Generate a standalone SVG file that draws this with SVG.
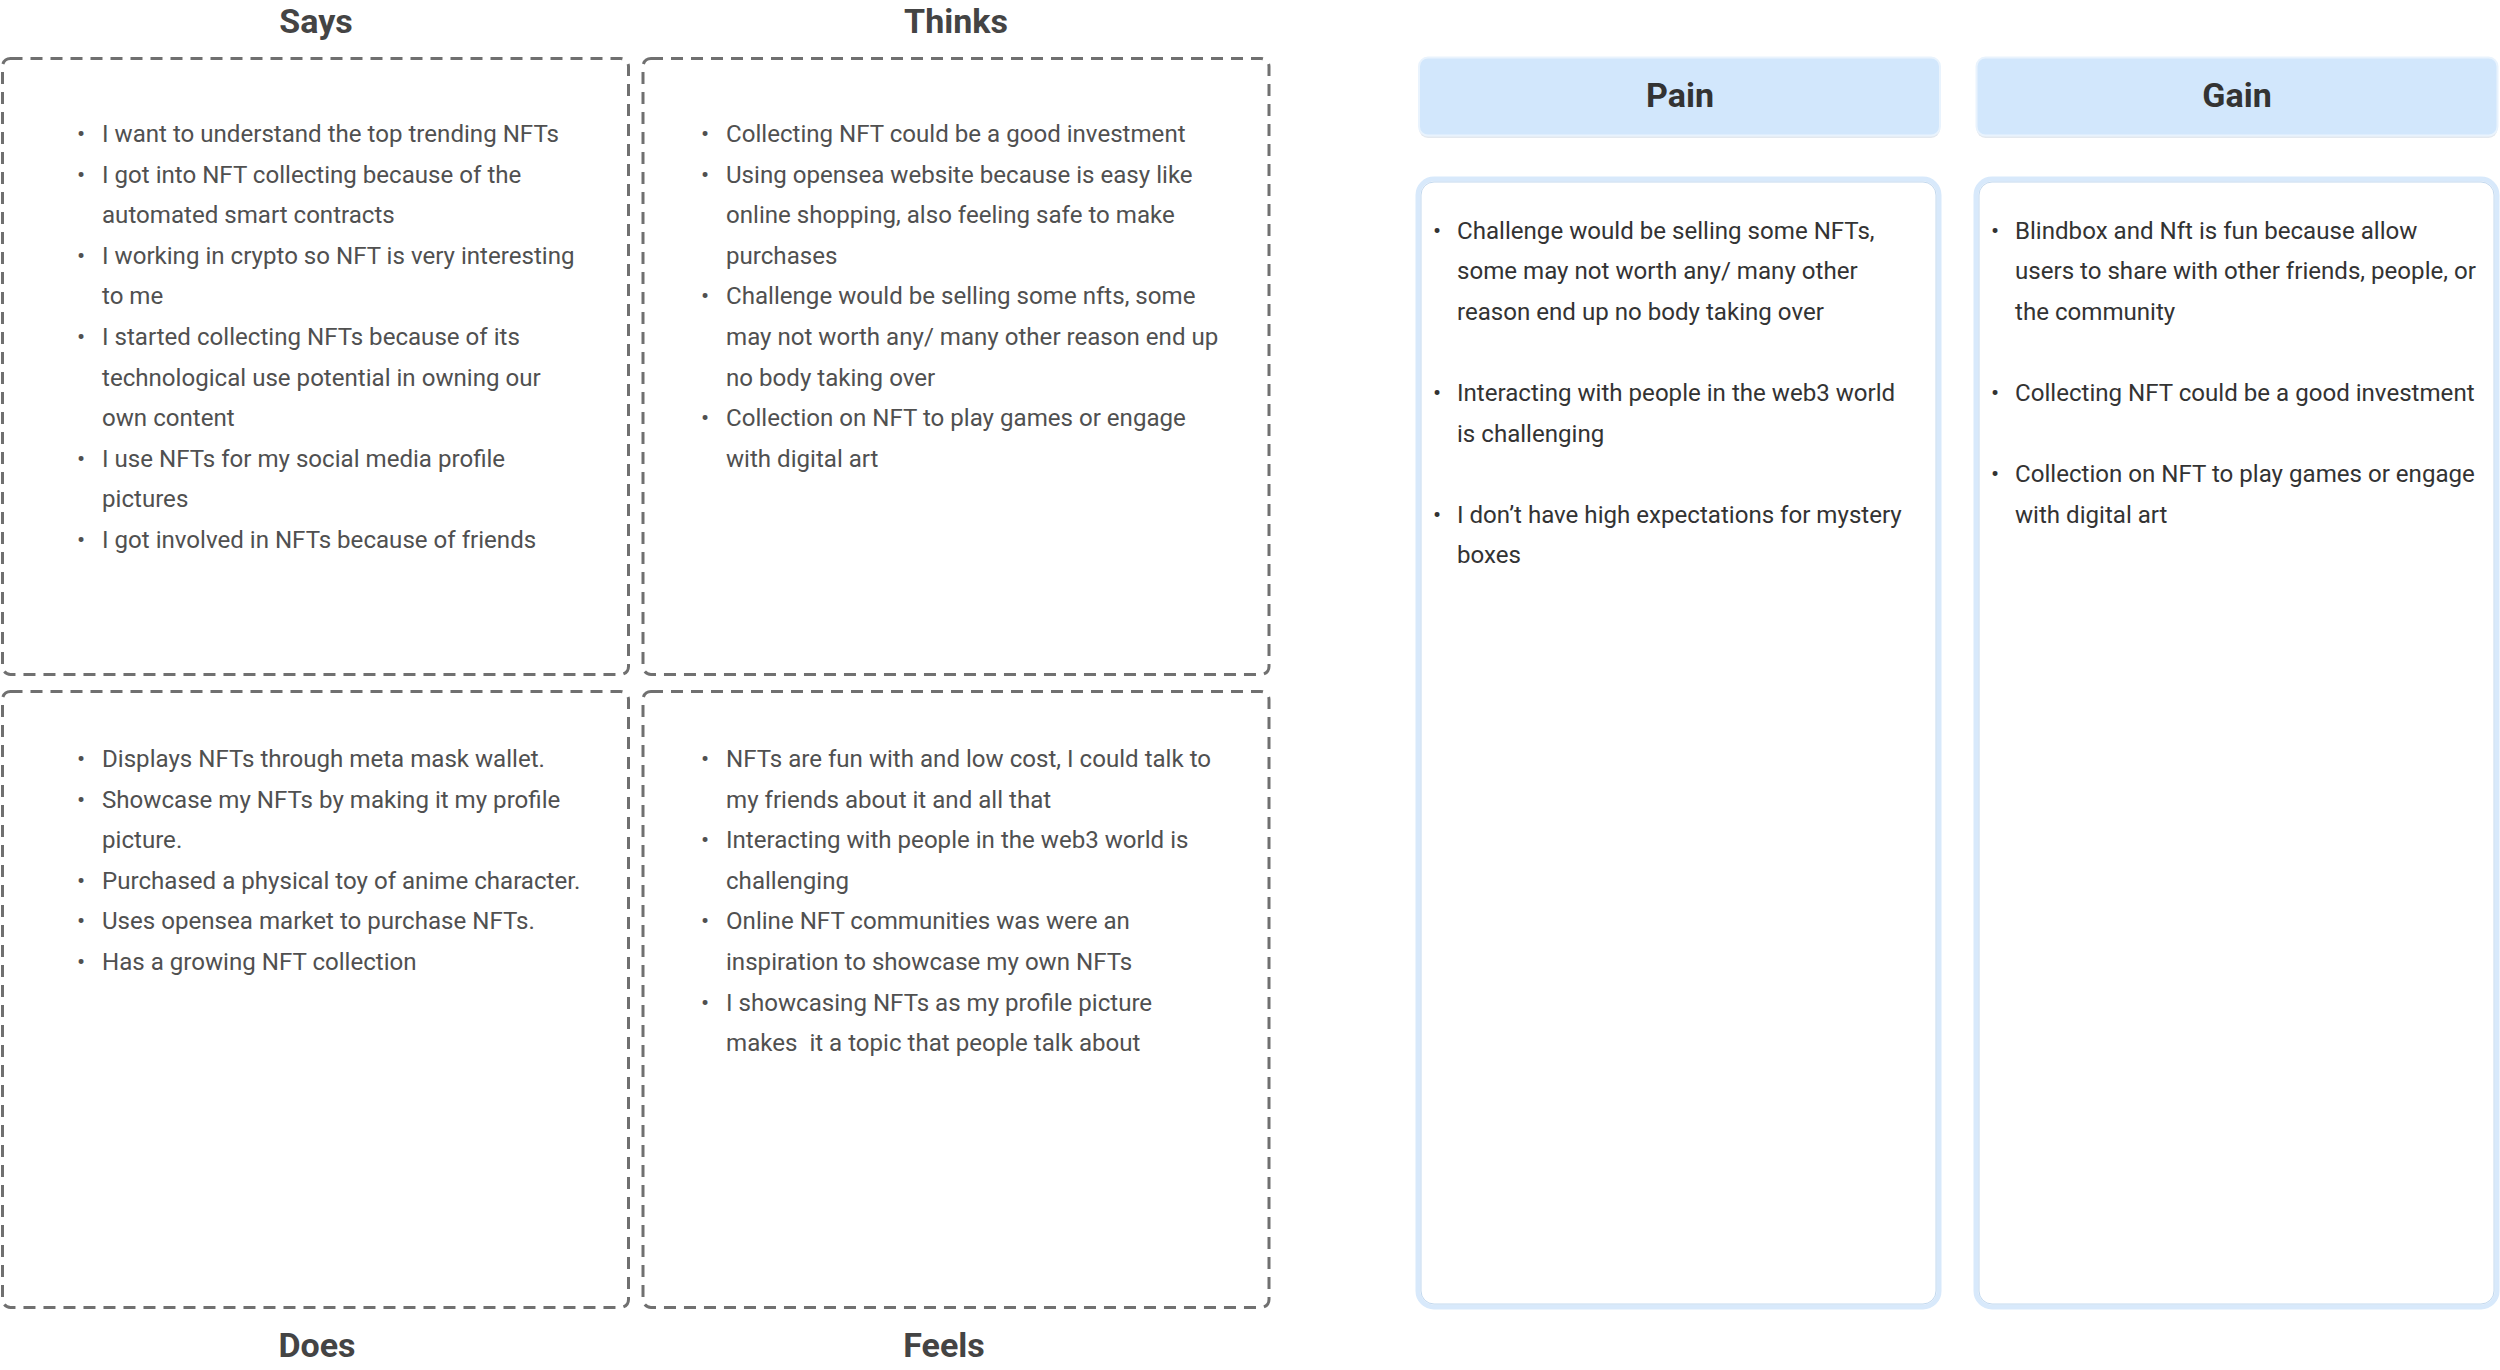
<svg xmlns="http://www.w3.org/2000/svg" width="2500" height="1370" viewBox="0 0 2500 1370">
<style>
.bg{fill:#ffffff}
.dash{fill:none;stroke:#707070;stroke-width:3;stroke-dasharray:12 8}
.title{font-family:Roboto,"Liberation Sans",sans-serif;font-weight:bold;font-size:34px;fill:#444444;text-anchor:middle}
.htitle{font-family:Roboto,"Liberation Sans",sans-serif;font-weight:bold;font-size:34px;fill:#333333;text-anchor:middle}
.t{font-family:Roboto,"Liberation Sans",sans-serif;font-size:24.1px;fill:#505050}
.tp{font-family:Roboto,"Liberation Sans",sans-serif;font-size:24.1px;fill:#333333}
.b{text-anchor:middle}
.head{fill:#d2e7fc;stroke:#e9f3fd;stroke-width:2}
.shadow{fill:#e3e8ee}
.body{fill:#ffffff;stroke:#d8e9fb;stroke-width:5}
.inner{fill:none;stroke:#c2d8ee;stroke-width:1}
</style>
<rect class="bg" x="0" y="0" width="2500" height="1370"/>
<g id="connectors"></g>

<g id="node-says">
<text class="title" x="316" y="33">Says</text>
<rect class="dash" x="2.5" y="58.5" width="626" height="616" rx="8"/>
<g class="t">
<text class="b" x="81" y="142">•</text><text x="102" y="142">I want to understand the top trending NFTs</text>
<text class="b" x="81" y="182.6">•</text><text x="102" y="182.6">I got into NFT collecting because of the</text>
<text x="102" y="223.2">automated smart contracts</text>
<text class="b" x="81" y="263.8">•</text><text x="102" y="263.8">I working in crypto so NFT is very interesting</text>
<text x="102" y="304.4">to me</text>
<text class="b" x="81" y="345">•</text><text x="102" y="345">I started collecting NFTs because of its</text>
<text x="102" y="385.6">technological use potential in owning our</text>
<text x="102" y="426.2">own content</text>
<text class="b" x="81" y="466.8">•</text><text x="102" y="466.8">I use NFTs for my social media profile</text>
<text x="102" y="507.4">pictures</text>
<text class="b" x="81" y="548">•</text><text x="102" y="548">I got involved in NFTs because of friends</text>
</g>
</g>

<g id="node-thinks">
<text class="title" x="956" y="33">Thinks</text>
<rect class="dash" x="643" y="58.5" width="626" height="616" rx="8"/>
<g class="t">
<text class="b" x="705" y="142">•</text><text x="726" y="142">Collecting NFT could be a good investment</text>
<text class="b" x="705" y="182.6">•</text><text x="726" y="182.6">Using opensea website because is easy like</text>
<text x="726" y="223.2">online shopping, also feeling safe to make</text>
<text x="726" y="263.8">purchases</text>
<text class="b" x="705" y="304.4">•</text><text x="726" y="304.4">Challenge would be selling some nfts, some</text>
<text x="726" y="345">may not worth any/ many other reason end up</text>
<text x="726" y="385.6">no body taking over</text>
<text class="b" x="705" y="426.2">•</text><text x="726" y="426.2">Collection on NFT to play games or engage</text>
<text x="726" y="466.8">with digital art</text>
</g>
</g>

<g id="node-does">
<rect class="dash" x="2.5" y="691.5" width="626" height="616" rx="8"/>
<text class="title" x="317" y="1357">Does</text>
<g class="t">
<text class="b" x="81" y="767">•</text><text x="102" y="767">Displays NFTs through meta mask wallet.</text>
<text class="b" x="81" y="807.6">•</text><text x="102" y="807.6">Showcase my NFTs by making it my profile</text>
<text x="102" y="848.2">picture.</text>
<text class="b" x="81" y="888.8">•</text><text x="102" y="888.8">Purchased a physical toy of anime character.</text>
<text class="b" x="81" y="929.4">•</text><text x="102" y="929.4">Uses opensea market to purchase NFTs.</text>
<text class="b" x="81" y="970">•</text><text x="102" y="970">Has a growing NFT collection</text>
</g>
</g>

<g id="node-feels">
<rect class="dash" x="643" y="691.5" width="626" height="616" rx="8"/>
<text class="title" x="944" y="1357">Feels</text>
<g class="t">
<text class="b" x="705" y="767">•</text><text x="726" y="767">NFTs are fun with and low cost, I could talk to</text>
<text x="726" y="807.6">my friends about it and all that</text>
<text class="b" x="705" y="848.2">•</text><text x="726" y="848.2">Interacting with people in the web3 world is</text>
<text x="726" y="888.8">challenging</text>
<text class="b" x="705" y="929.4">•</text><text x="726" y="929.4">Online NFT communities was were an</text>
<text x="726" y="970">inspiration to showcase my own NFTs</text>
<text class="b" x="705" y="1010.6">•</text><text x="726" y="1010.6">I showcasing NFTs as my profile picture</text>
<text x="726" y="1051.2" xml:space="preserve">makes  it a topic that people talk about</text>
</g>
</g>

<g id="node-pain">
<rect class="shadow" x="1419" y="59" width="521" height="79" rx="9"/>
<rect class="head" x="1419" y="57.5" width="521" height="78" rx="9"/>
<text class="htitle" x="1680" y="107">Pain</text>
<rect class="body" x="1418" y="179" width="521" height="1128" rx="16"/>
<rect class="inner" x="1421" y="182" width="515" height="1122" rx="13"/>
<g class="tp">
<text class="b" x="1437" y="238.5">•</text><text x="1457" y="238.5">Challenge would be selling some NFTs,</text>
<text x="1457" y="279.1">some may not worth any/ many other</text>
<text x="1457" y="319.7">reason end up no body taking over</text>
<text class="b" x="1437" y="400.9">•</text><text x="1457" y="400.9">Interacting with people in the web3 world</text>
<text x="1457" y="441.5">is challenging</text>
<text class="b" x="1437" y="522.7">•</text><text x="1457" y="522.7">I don’t have high expectations for mystery</text>
<text x="1457" y="563.3">boxes</text>
</g>
</g>

<g id="node-gain">
<rect class="shadow" x="1976.5" y="59" width="521" height="79" rx="9"/>
<rect class="head" x="1976.5" y="57.5" width="521" height="78" rx="9"/>
<text class="htitle" x="2237" y="107">Gain</text>
<rect class="body" x="1976" y="179" width="521" height="1128" rx="16"/>
<rect class="inner" x="1979" y="182" width="515" height="1122" rx="13"/>
<g class="tp">
<text class="b" x="1995" y="238.5">•</text><text x="2015" y="238.5">Blindbox and Nft is fun because allow</text>
<text x="2015" y="279.1">users to share with other friends, people, or</text>
<text x="2015" y="319.7">the community</text>
<text class="b" x="1995" y="400.9">•</text><text x="2015" y="400.9">Collecting NFT could be a good investment</text>
<text class="b" x="1995" y="482.1">•</text><text x="2015" y="482.1">Collection on NFT to play games or engage</text>
<text x="2015" y="522.7">with digital art</text>
</g>
</g>
</svg>
